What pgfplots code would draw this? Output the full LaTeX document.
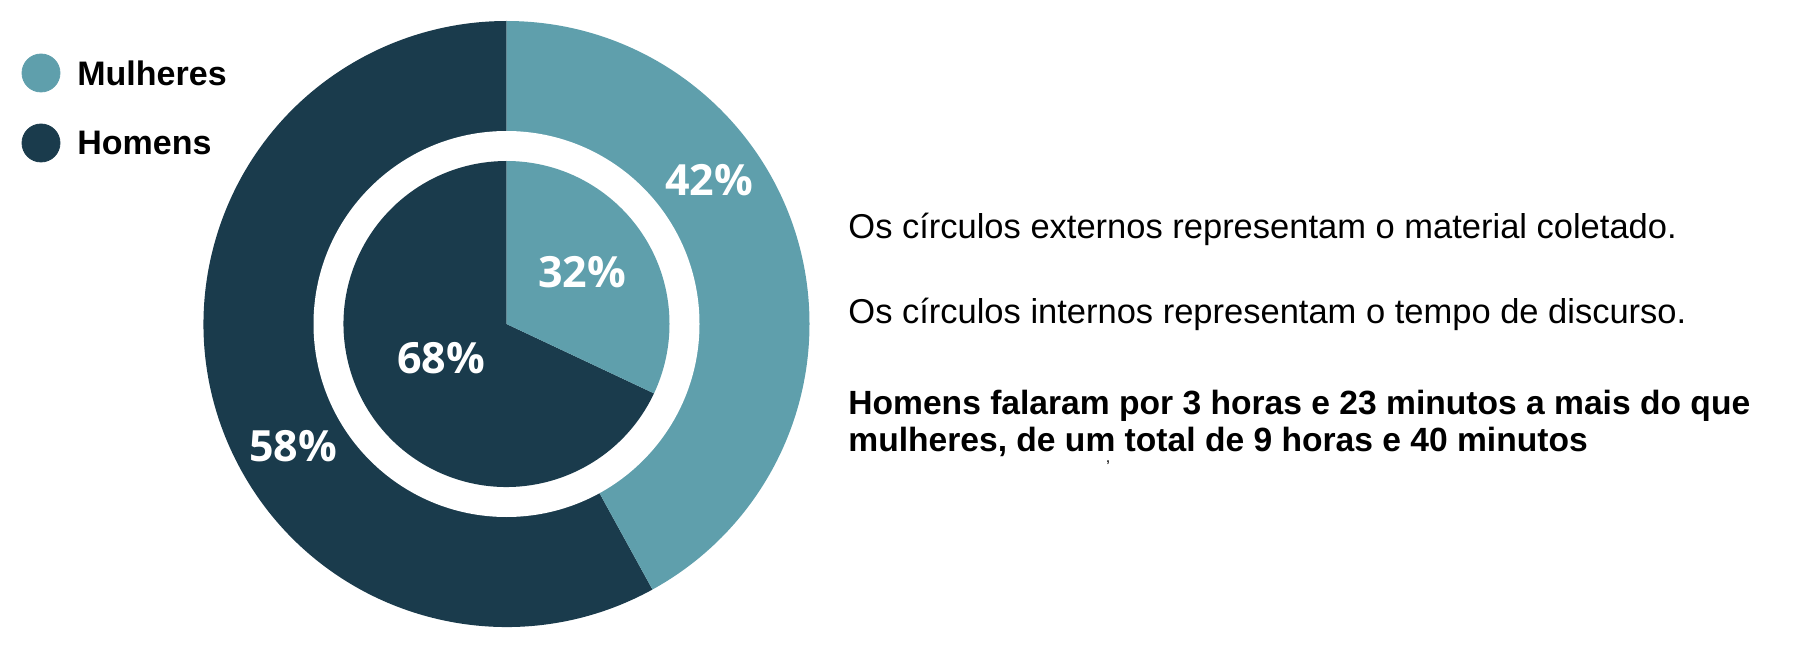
\documentclass[border=0pt]{standalone}
\usepackage{pgfplots}
\pgfplotsset{compat=1.18}
\usepackage{pgfplotstable}
\usepackage{fontspec}
\setmainfont{Liberation Sans}
\newfontfamily\pctfont{Open Sans}
\definecolor{mulheres}{HTML}{5F9FAC}
\definecolor{homens}{HTML}{1A3B4C}

% material coletado (anel externo) e tempo de discurso (disco interno)
\pgfplotstableread{
grupo valor
Mulheres 42
Homens 58
}\externo
\pgfplotstableread{
grupo valor
Mulheres 32
Homens 68
}\interno

\begin{document}
\begin{tikzpicture}
\useasboundingbox (0,0) rectangle (900pt,324.5pt);
\pgfplotstablegetelem{0}{valor}\of\externo
\pgfmathsetmacro\corteext{90-3.6*\pgfplotsretval}
\pgfplotstablegetelem{0}{valor}\of\interno
\pgfmathsetmacro\corteint{90-3.6*\pgfplotsretval}
\begin{axis}[
    at={(0,0)}, anchor=south west,
    scale only axis, width=900pt, height=324.5pt,
    xmin=0, xmax=1800, ymin=0, ymax=649,
    hide axis, clip=false,
]
% anel externo
\fill[homens] (axis cs:506.5,325) -- ++(\corteext:151.5pt)
    arc[start angle=\corteext, end angle=-270, radius=151.5pt] -- cycle;
\fill[mulheres] (axis cs:506.5,325) -- ++(90:151.5pt)
    arc[start angle=90, end angle=\corteext, radius=151.5pt] -- cycle;
\fill[white] (axis cs:506.5,325) circle[radius=96.5pt];
% disco interno
\fill[homens] (axis cs:506.5,325) -- ++(\corteint:81.5pt)
    arc[start angle=\corteint, end angle=-270, radius=81.5pt] -- cycle;
\fill[mulheres] (axis cs:506.5,325) -- ++(90:81.5pt)
    arc[start angle=90, end angle=\corteint, radius=81.5pt] -- cycle;

% legenda
\addplot[only marks, mark=*, mark size=9.5pt, color=mulheres] coordinates {(41,576)};
\addplot[only marks, mark=*, mark size=9.5pt, color=homens] coordinates {(41,506)};
\node[anchor=west, inner sep=0pt, font=\fontsize{17}{20}\selectfont\bfseries] at (axis cs:77,576) {Mulheres};
\node[anchor=west, inner sep=0pt, font=\fontsize{17}{20}\selectfont\bfseries] at (axis cs:77,506) {Homens};

% rotulos
\begin{scope}[every node/.style={text=white, font=\pctfont\bfseries\fontsize{21.5}{26}\selectfont}]
\node at (axis cs:709,469) {42\%};
\node at (axis cs:582,377) {32\%};
\node at (axis cs:441,291) {68\%};
\node at (axis cs:293,203) {58\%};
\end{scope}

% texto
\node[anchor=west, inner sep=0pt, font=\fontsize{17.25}{20}\selectfont] at (axis cs:848,420) {Os círculos externos representam o material coletado.};
\node[anchor=west, inner sep=0pt, font=\fontsize{17.25}{20}\selectfont] at (axis cs:848,335) {Os círculos internos representam o tempo de discurso.};
\node[anchor=west, inner sep=0pt, font=\fontsize{16.8}{20}\selectfont\bfseries] at (axis cs:848,243) {Homens falaram por 3 horas e 23 minutos a mais do que};
\node[anchor=west, inner sep=0pt, font=\fontsize{16.8}{20}\selectfont\bfseries] at (axis cs:848,207) {mulheres, de um total de 9 horas e 40 minutos};
\node[inner sep=0pt, font=\fontsize{8}{8}\selectfont] at (axis cs:1108,186) {,};
\end{axis}
\end{tikzpicture}
\end{document}
